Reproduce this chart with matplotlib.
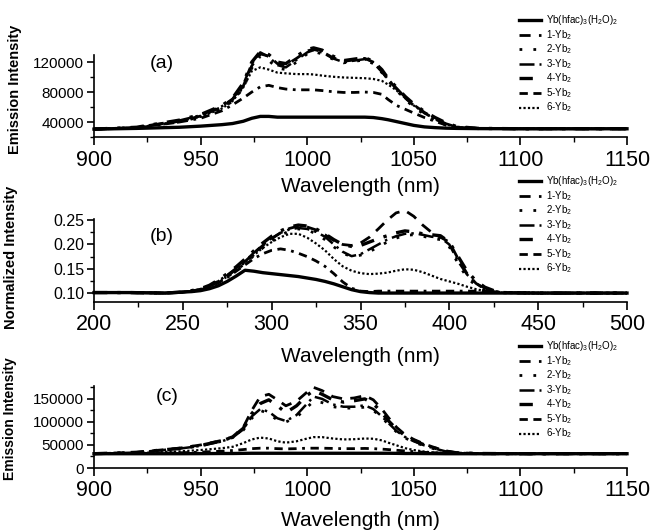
import matplotlib
matplotlib.use("Agg")
import matplotlib.pyplot as plt
from matplotlib.ticker import MultipleLocator

plt.rcParams['font.family'] = ['Liberation Sans', 'DejaVu Sans']
plt.rcParams['mathtext.fontset'] = 'custom'
plt.rcParams['mathtext.rm'] = 'Liberation Sans'
plt.rcParams['mathtext.it'] = 'Liberation Sans:italic'
plt.rcParams['mathtext.bf'] = 'Liberation Sans:bold'

labels = ['Yb(hfac)$_3$(H$_2$O)$_2$', '1-Yb$_2$', '2-Yb$_2$', '3-Yb$_2$',
          '4-Yb$_2$', '5-Yb$_2$', '6-Yb$_2$']

# (a) emission spectra, excitation 1
wl_a = [900, 920, 940, 950, 960, 965, 970, 974, 978, 982, 986, 990, 995, 1000,
        1003, 1007, 1012, 1017, 1022, 1027, 1031, 1035, 1038, 1042, 1046, 1050,
        1055, 1060, 1065, 1070, 1080, 1100, 1150]
a_ref = [30500, 31500, 33000, 34500, 36500, 38000, 41000, 45000, 47500, 47500,
         46500, 46500, 46500, 46500, 46500, 46500, 46500, 46500, 46500, 46500,
         46000, 44500, 43000, 40500, 38000, 35500, 33500, 32500, 31800, 31500,
         31200, 31000, 31000]
a_1 = [30500, 32500, 41000, 48000, 60000, 70000, 88000, 115000, 131000, 128000,
       118000, 116000, 125000, 135000, 137000, 134000, 126000, 121000, 123000,
       125000, 120000, 108000, 96000, 84000, 72000, 62000, 52000, 44000, 37000,
       33000, 31500, 31000, 31000]
a_2 = [30500, 32500, 40000, 47000, 58000, 68000, 85000, 112000, 128000, 122000,
       112000, 110000, 120000, 131000, 134000, 131000, 124000, 119000, 121000,
       123000, 118000, 106000, 95000, 82000, 70000, 60000, 50000, 42000, 36000,
       33000, 31500, 31000, 31000]
a_3 = [30500, 33000, 42000, 49000, 61000, 71000, 90000, 118000, 133000, 127000,
       116000, 113000, 123000, 133000, 136000, 133000, 125000, 120000, 122000,
       124000, 119000, 107000, 97000, 85000, 73000, 63000, 53000, 45000, 38000,
       33500, 31500, 31000, 31000]
a_4 = [30500, 33000, 42500, 50000, 62000, 72000, 92000, 120000, 134000, 130000,
       120000, 118000, 128000, 137000, 139000, 136000, 128000, 122000, 124000,
       126000, 121000, 110000, 98000, 86000, 74000, 64000, 54000, 46000, 39000,
       34000, 31500, 31000, 31000]
a_5 = [30500, 32000, 40000, 45000, 55000, 63000, 72000, 80000, 87000, 89000,
       86000, 84000, 83000, 83000, 83000, 82000, 80500, 79500, 79500, 80000,
       79500, 77000, 70000, 62000, 57000, 52000, 46000, 41000, 36000, 33000,
       31500, 31000, 31000]
a_6 = [30500, 32500, 41000, 47000, 58000, 68000, 86000, 108000, 113000, 110000,
       106000, 105000, 104000, 104000, 103500, 102000, 100500, 99500, 99000,
       98500, 97500, 95000, 90000, 82000, 72000, 62000, 52000, 44000, 37000,
       33000, 31500, 31000, 31000]

# (b) normalized excitation spectra
wl_b = [200, 220, 240, 250, 255, 260, 265, 270, 275, 280, 285, 290, 295, 300,
        305, 310, 315, 320, 325, 330, 335, 340, 345, 350, 355, 360, 365, 370,
        375, 380, 385, 390, 395, 400, 405, 410, 415, 420, 425, 430, 450, 500]
b_ref = [0.101, 0.101, 0.100, 0.102, 0.103, 0.105, 0.109, 0.115, 0.124, 0.135,
         0.147, 0.145, 0.142, 0.140, 0.138, 0.136, 0.134, 0.131, 0.128, 0.124,
         0.119, 0.113, 0.107, 0.103, 0.101, 0.100, 0.100, 0.100, 0.100, 0.100,
         0.100, 0.100, 0.100, 0.100, 0.100, 0.100, 0.100, 0.100, 0.100, 0.100,
         0.100, 0.100]
b_1 = [0.101, 0.101, 0.100, 0.102, 0.104, 0.108, 0.114, 0.124, 0.136, 0.150,
       0.165, 0.182, 0.198, 0.212, 0.224, 0.233, 0.238, 0.236, 0.230, 0.220,
       0.208, 0.200, 0.198, 0.203, 0.215, 0.232, 0.250, 0.265, 0.270, 0.258,
       0.240, 0.225, 0.215, 0.205, 0.170, 0.140, 0.120, 0.108, 0.103, 0.101,
       0.100, 0.100]
b_2 = [0.101, 0.101, 0.100, 0.102, 0.104, 0.107, 0.113, 0.122, 0.133, 0.147,
       0.161, 0.177, 0.193, 0.207, 0.219, 0.228, 0.232, 0.230, 0.222, 0.210,
       0.195, 0.182, 0.175, 0.178, 0.185, 0.195, 0.205, 0.213, 0.219, 0.220,
       0.217, 0.213, 0.210, 0.195, 0.160, 0.132, 0.115, 0.106, 0.102, 0.101,
       0.100, 0.100]
b_3 = [0.101, 0.101, 0.100, 0.102, 0.104, 0.108, 0.115, 0.125, 0.137, 0.151,
       0.166, 0.183, 0.199, 0.213, 0.224, 0.231, 0.234, 0.232, 0.226, 0.216,
       0.200, 0.185, 0.176, 0.180, 0.190, 0.200, 0.210, 0.217, 0.222, 0.223,
       0.220, 0.216, 0.214, 0.200, 0.165, 0.138, 0.120, 0.110, 0.104, 0.101,
       0.100, 0.100]
b_4 = [0.101, 0.101, 0.100, 0.102, 0.105, 0.109, 0.116, 0.127, 0.140, 0.154,
       0.170, 0.187, 0.203, 0.217, 0.228, 0.236, 0.240, 0.238, 0.232, 0.222,
       0.210, 0.200, 0.196, 0.198, 0.205, 0.212, 0.218, 0.224, 0.228, 0.226,
       0.222, 0.220, 0.218, 0.205, 0.175, 0.145, 0.125, 0.112, 0.105, 0.101,
       0.100, 0.100]
b_5 = [0.101, 0.101, 0.100, 0.102, 0.104, 0.107, 0.112, 0.121, 0.132, 0.145,
       0.158, 0.171, 0.181, 0.188, 0.191, 0.188, 0.182, 0.175, 0.166, 0.155,
       0.140, 0.123, 0.110, 0.104, 0.103, 0.104, 0.104, 0.104, 0.104, 0.104,
       0.104, 0.104, 0.104, 0.104, 0.104, 0.104, 0.104, 0.104, 0.102, 0.101,
       0.100, 0.100]
b_6 = [0.101, 0.101, 0.100, 0.102, 0.104, 0.107, 0.113, 0.122, 0.134, 0.148,
       0.163, 0.178, 0.193, 0.205, 0.215, 0.222, 0.222, 0.214, 0.202, 0.188,
       0.170, 0.155, 0.146, 0.141, 0.139, 0.140, 0.142, 0.146, 0.149, 0.148,
       0.143, 0.136, 0.129, 0.124, 0.119, 0.113, 0.108, 0.104, 0.102, 0.101,
       0.100, 0.100]

# (c) emission spectra, excitation 2
wl_c = wl_a
c_ref = [31000, 31000, 31000, 31200, 31500, 31500, 31800, 32000, 32000, 32000,
         32000, 32000, 32000, 32000, 32000, 32000, 32000, 32000, 32000, 32000,
         32000, 32000, 32000, 31800, 31500, 31500, 31300, 31200, 31000, 31000,
         31000, 31000, 31000]
c_1 = [31000, 34000, 43000, 50000, 60000, 68000, 88000, 125000, 155000, 160000,
       148000, 135000, 145000, 165000, 175000, 168000, 155000, 150000, 152000,
       157000, 148000, 128000, 110000, 88000, 72000, 62000, 52000, 44000, 37000,
       33000, 31500, 31000, 31000]
c_2 = [31000, 33500, 42000, 48000, 58000, 66000, 82000, 108000, 125000, 118000,
       104000, 100000, 110000, 132000, 145000, 142000, 133000, 130000, 130000,
       132000, 125000, 110000, 95000, 78000, 65000, 56000, 48000, 41000, 35500,
       32500, 31500, 31000, 31000]
c_3 = [31000, 33500, 42000, 48000, 58000, 66000, 84000, 112000, 128000, 122000,
       108000, 102000, 115000, 140000, 155000, 150000, 138000, 133000, 133000,
       136000, 128000, 112000, 98000, 80000, 67000, 58000, 49000, 42000, 36000,
       33000, 31500, 31000, 31000]
c_4 = [31000, 34000, 42500, 49000, 59000, 67000, 86000, 118000, 140000, 148000,
       135000, 120000, 135000, 158000, 168000, 160000, 148000, 143000, 146000,
       150000, 140000, 120000, 103000, 84000, 70000, 60000, 50000, 43000, 36500,
       33000, 31500, 31000, 31000]
c_5 = [31000, 31500, 33000, 34500, 36500, 38000, 40000, 42000, 43000, 43000,
       42000, 41500, 42000, 43000, 43000, 43000, 42500, 42000, 42000, 42500,
       42000, 41000, 40000, 38500, 37000, 35500, 34000, 33000, 32000, 31500,
       31000, 31000, 31000]
c_6 = [31000, 32500, 36000, 39000, 43000, 46000, 54000, 62000, 66000, 64000,
       58000, 55000, 58000, 64000, 67000, 67000, 64000, 62000, 62500, 64000,
       63500, 60000, 55000, 49000, 43000, 39000, 35500, 33500, 32000, 31500,
       31000, 31000, 31000]

# line styles in the order of the labels
styles = [
    dict(ls='-', lw=2.4),
    dict(dashes=(4, 3), lw=2.0),
    dict(dashes=(1, 4), lw=2.0),
    dict(dashes=(6, 2, 1, 2), lw=1.8),
    dict(dashes=(4, 3, 1, 3), lw=2.4),
    dict(dashes=(3, 2, 3, 2, 1, 2), lw=2.0),
    dict(dashes=(1, 1), lw=1.6),
]

fig = plt.figure(figsize=(6.54, 5.32), dpi=100)
W, H = 654, 532


def make_axes(top, bottom):
    return fig.add_axes([94 / W, 1 - bottom / H, (627 - 94) / W, (bottom - top) / H])


def style_axes(ax, xlim, ylim, xmaj, xmin, ymaj, ymin, ytick_size):
    ax.set_xlim(*xlim)
    ax.set_ylim(*ylim)
    for s in ['top', 'right']:
        ax.spines[s].set_visible(False)
    for s in ['left', 'bottom']:
        ax.spines[s].set_linewidth(1.2)
    ax.xaxis.set_major_locator(MultipleLocator(xmaj))
    ax.xaxis.set_minor_locator(MultipleLocator(xmin))
    ax.yaxis.set_major_locator(MultipleLocator(ymaj))
    ax.yaxis.set_minor_locator(MultipleLocator(ymin))
    ax.tick_params(axis='x', which='major', direction='out', length=6, width=1.2,
                   labelsize=15.5, pad=3)
    ax.tick_params(axis='x', which='minor', direction='out', length=3.5, width=1.0)
    ax.tick_params(axis='y', which='major', direction='out', length=5, width=1.2,
                   labelsize=ytick_size, pad=2)
    ax.tick_params(axis='y', which='minor', direction='out', length=3, width=1.0)


def draw(ax, wl, series):
    lines = []
    for ys, st in zip(series, styles):
        ln, = ax.plot(wl, ys, color='black', clip_on=False, **st)
        lines.append(ln)
    return lines


def legend(ax, lines, top_px):
    ax.legend(lines, labels, loc='upper left', bbox_to_anchor=(519 / W, 1 - top_px / H),
              bbox_transform=fig.transFigure, frameon=False, fontsize=7,
              handlelength=2.3, handleheight=0.5, handletextpad=0.5,
              labelspacing=0.08, borderpad=0, borderaxespad=0)


# panel (a)
ax1 = make_axes(55, 137)
style_axes(ax1, (900, 1150), (20000, 129500), 50, 25, 40000, 20000, 11)
l1 = draw(ax1, wl_a, [a_ref, a_1, a_2, a_3, a_4, a_5, a_6])
ax1.set_xlabel('Wavelength (nm)', fontsize=15)
ax1.xaxis.set_label_coords(0.5, -0.49)
ax1.set_ylabel('Emission Intensity', fontsize=10.5, fontweight='bold')
ax1.yaxis.set_label_coords(-0.135, 0.585)
ax1.text(0.128, 0.90, '(a)', transform=ax1.transAxes, fontsize=14,
         ha='center', va='center')
legend(ax1, l1, 13)

# panel (b)
ax2 = make_axes(219, 302)
style_axes(ax2, (200, 500), (0.0816, 0.2525), 50, 25, 0.05, 0.025, 11.5)
ax2.yaxis.set_major_formatter(plt.FormatStrFormatter('%.2f'))
l2 = draw(ax2, wl_b, [b_ref, b_1, b_2, b_3, b_4, b_5, b_6])
ax2.set_xlabel('Wavelength (nm)', fontsize=15)
ax2.xaxis.set_label_coords(0.5, -0.54)
ax2.set_ylabel('Normalized Intensity', fontsize=10.5, fontweight='bold')
ax2.yaxis.set_label_coords(-0.143, 0.54)
ax2.text(0.128, 0.795, '(b)', transform=ax2.transAxes, fontsize=14,
         ha='center', va='center')
legend(ax2, l2, 174)

# panel (c)
ax3 = make_axes(386, 468)
style_axes(ax3, (900, 1150), (0, 178000), 50, 25, 50000, 25000, 11)
l3 = draw(ax3, wl_c, [c_ref, c_1, c_2, c_3, c_4, c_5, c_6])
ax3.set_xlabel('Wavelength (nm)', fontsize=15)
ax3.xaxis.set_label_coords(0.5, -0.52)
ax3.set_ylabel('Emission Intensity', fontsize=10, fontweight='bold')
ax3.yaxis.set_label_coords(-0.144, 0.6)
ax3.text(0.138, 0.866, '(c)', transform=ax3.transAxes, fontsize=14,
         ha='center', va='center')
legend(ax3, l3, 339)

fig.savefig('out.png', dpi=100)
